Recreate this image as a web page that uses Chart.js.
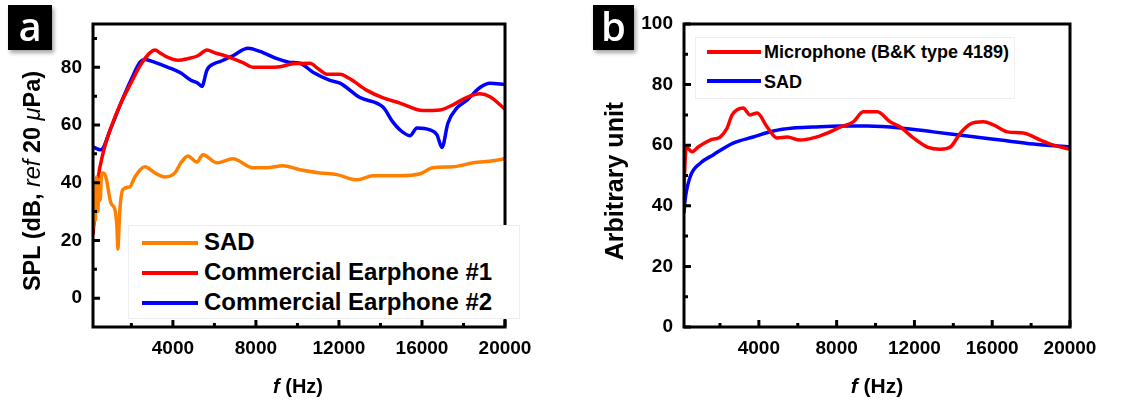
<!DOCTYPE html>
<html>
<head>
<meta charset="utf-8">
<script src="https://cdn.jsdelivr.net/npm/chart.js@4/dist/chart.umd.min.js"></script>
<style>
  html, body { margin:0; padding:0; background:#fff; }
  body { width:1137px; height:401px; position:relative; overflow:hidden; font-family:"Liberation Sans", Arial, sans-serif; }
  .abs { position:absolute; }
  .tag { position:absolute; background:#000; color:#fff; font-family:"Open Sans","Lato",sans-serif; font-weight:600; font-size:40px; line-height:40px; text-align:center; box-shadow:2px 3px 4px rgba(0,0,0,0.35); }
  .ytitle { position:absolute; white-space:nowrap; font-weight:bold; transform:translate(-50%,-50%) rotate(-90deg); }
  .xtitle { position:absolute; white-space:nowrap; font-weight:bold; transform:translate(-50%,-50%); }
  .leg { position:absolute; border:1px solid #eeeeee; background:#fff; }
  .legrow { position:absolute; white-space:nowrap; font-weight:bold; }
  .sw { position:absolute; height:4px; }
</style>
</head>
<body>
<div class="abs" style="left:0;top:0;width:560px;height:401px;"><canvas id="ca" width="560" height="401"></canvas></div>
<div class="abs" style="left:560px;top:0;width:577px;height:401px;"><canvas id="cb" width="577" height="401"></canvas></div>

<div class="tag" style="left:8px;top:5px;width:44px;height:45px;line-height:42px;">a</div>
<div class="tag" style="left:593px;top:5px;width:41px;height:45px;line-height:42px;">b</div>

<div class="ytitle" style="left:32px;top:181px;font-size:23.5px;">SPL (dB, <i style="font-weight:normal">ref</i> 20 <i style="font-weight:normal">μ</i>Pa)</div>
<div class="xtitle" style="left:298px;top:386px;font-size:20px;"><i>f</i> (Hz)</div>
<div class="ytitle" style="left:614px;top:181px;font-size:25px;">Arbitrary unit</div>
<div class="xtitle" style="left:877px;top:386px;font-size:21px;"><i>f</i> (Hz)</div>

<div class="leg" style="left:128px;top:225px;width:390px;height:92px;"></div>
<div class="sw" style="left:142px;top:241px;width:56px;background:#ff8000;"></div>
<div class="sw" style="left:142px;top:271px;width:56px;background:#ff0000;"></div>
<div class="sw" style="left:142px;top:301px;width:56px;background:#0000ff;"></div>
<div class="legrow" style="left:204px;top:228px;font-size:24px;">SAD</div>
<div class="legrow" style="left:204px;top:258px;font-size:24px;">Commercial Earphone #1</div>
<div class="legrow" style="left:204px;top:288px;font-size:24px;">Commercial Earphone #2</div>

<div class="leg" style="left:695px;top:37px;width:318px;height:60px;"></div>
<div class="sw" style="left:707px;top:50px;width:54px;background:#ff0000;"></div>
<div class="sw" style="left:707px;top:79px;width:54px;background:#0000ff;"></div>
<div class="legrow" style="left:764px;top:42px;font-size:18px;">Microphone (B&amp;K type 4189)</div>
<div class="legrow" style="left:764px;top:72px;font-size:18px;">SAD</div>

<script>
// ---------- Data: panel a ----------
const freqA_sad = [150, 200, 260, 320, 380, 440, 500, 560, 626, 770, 1012, 1205, 1300, 1350, 1400, 1446, 1590, 1928, 2169, 2650, 3132, 3614, 4096, 4385, 4723, 5157, 5445, 6120, 6891, 7855, 8530, 9300, 10120, 11084, 11903, 12867, 13638, 14939, 15903, 16530, 17493, 18457, 19420, 20000];
const splA_sad  = [24, 40, 27, 42, 30, 41, 34, 43, 43.4, 42, 33, 30.7, 25, 17, 24, 30.7, 37.6, 38.6, 42, 45.5, 43.4, 42, 43.4, 46.9, 49.3, 47.2, 49.7, 46.9, 48.3, 45.2, 45.2, 45.9, 44.5, 43.4, 42.8, 41, 42.4, 42.4, 43.1, 45.2, 45.5, 46.9, 47.6, 48.3];

const freqA_e1 = [150, 386, 626, 1012, 1494, 1976, 2458, 2891, 3132, 3422, 3759, 4241, 4723, 5205, 5638, 6024, 6506, 6891, 7400, 7855, 8500, 9156, 9783, 10602, 11000, 11421, 12048, 12529, 13349, 14100, 14939, 16047, 16867, 17493, 18168, 18794, 19276, 20000];
const splA_e1  = [22, 41, 50, 59, 67.6, 74.5, 81, 85, 86, 84.8, 83.4, 82.4, 83, 84, 86, 85, 84, 83, 81.5, 80, 80, 80.2, 81.2, 81.4, 79.5, 77.6, 77.6, 76, 72, 69.5, 67.6, 65, 65.2, 67, 69.6, 70.8, 69.8, 65.5];

const freqA_e2 = [150, 530, 1012, 1494, 1976, 2410, 2650, 3132, 3759, 4385, 4867, 5205, 5397, 5638, 6024, 6265, 6891, 7614, 8192, 9012, 9638, 10120, 10746, 11566, 12048, 13011, 14120, 14602, 14939, 15421, 15758, 16385, 16722, 16963, 17252, 17686, 18168, 18794, 19276, 20000];
const splA_e2  = [52.4, 51.4, 59, 67.6, 75.5, 81.7, 82.7, 81.7, 80, 78, 75.5, 74.5, 73.4, 79, 81.4, 82, 84, 86.6, 85.5, 83, 81.7, 81.4, 78.3, 75.5, 74.5, 69.5, 66.2, 61, 58.3, 56.3, 59, 58.3, 56.6, 52.2, 60.7, 65.9, 68.6, 73, 74.5, 74];

// ---------- Data: panel b ----------
const freqB_mic = [150, 257, 566, 875, 1493, 2008, 2368, 2626, 3192, 3552, 3913, 4427, 4942, 5457, 6126, 6795, 7516, 8185, 8855, 9369, 10090, 10759, 11274, 11943, 12664, 13333, 13848, 14363, 14878, 15547, 16062, 16782, 17606, 18481, 19151, 20000];
const valB_mic  = [46, 59.4, 57.8, 59.4, 61.7, 62.7, 65.7, 70, 72.3, 70, 70.6, 66, 62.4, 62.7, 61.7, 62.4, 64, 66, 67.7, 71, 71, 67.7, 66, 62.4, 59.4, 58.7, 59.4, 64, 67, 67.7, 66.7, 64.4, 64, 61.7, 60, 58.7];

const freqB_sad = [150, 206, 463, 978, 1647, 2677, 3707, 4736, 5766, 6795, 8185, 9575, 11274, 12973, 14723, 16422, 18121, 20000];
const valB_sad  = [37.6, 41.9, 49.5, 54, 56.8, 60.7, 62.7, 64.7, 65.7, 66, 66.3, 66.3, 65.7, 64.4, 63, 61.7, 60.4, 59.4];

// ---------- Ticks ----------
const xTickLabels = [4000, 8000, 12000, 16000, 20000];
const xMinorTicks = [2000, 6000, 10000, 14000, 18000];
const yTickLabelsA = [0, 20, 40, 60, 80];
const yMinorTicksA = [10, 30, 50, 70, 90];
const yTickLabelsB = [0, 20, 40, 60, 80, 100];
const yMinorTicksB = [10, 30, 50, 70, 90];

const pts = (xs, ys) => xs.map((x, i) => ({ x: x, y: ys[i] }));

const frameTicks = {
  id: 'frameTicks',
  afterDatasetsDraw(chart, args, opts) {
    const ctx = chart.ctx, a = chart.chartArea;
    const xs = chart.scales.x, ys = chart.scales.y;
    ctx.save();
    ctx.strokeStyle = '#000';
    ctx.lineWidth = 3;
    ctx.lineCap = 'butt';
    ctx.beginPath();
    opts.xMajor.forEach(v => { const p = xs.getPixelForValue(v); ctx.moveTo(p, a.bottom); ctx.lineTo(p, a.bottom - 7); });
    opts.xMinor.forEach(v => { const p = xs.getPixelForValue(v); ctx.moveTo(p, a.bottom); ctx.lineTo(p, a.bottom - 4); });
    opts.yMajor.forEach(v => { const p = ys.getPixelForValue(v); ctx.moveTo(a.left, p); ctx.lineTo(a.left + 7, p); });
    opts.yMinor.forEach(v => { const p = ys.getPixelForValue(v); ctx.moveTo(a.left, p); ctx.lineTo(a.left + 4, p); });
    ctx.stroke();
    ctx.lineWidth = 3;
    ctx.strokeRect(a.left, a.top, a.right - a.left, a.bottom - a.top);
    ctx.restore();
  }
};

const tickFont = { family: '"Liberation Sans", Arial, sans-serif', size: 19, weight: 'bold' };

function makeChart(id, datasets, cfg) {
  return new Chart(document.getElementById(id), {
    type: 'line',
    data: { datasets: datasets },
    plugins: [frameTicks],
    options: {
      responsive: false,
      animation: false,
      devicePixelRatio: 1,
      layout: { padding: { left: 0, top: 24, right: cfg.padRight, bottom: 0 } },
      plugins: {
        legend: { display: false },
        tooltip: { enabled: false },
        frameTicks: { xMajor: xTickLabels, xMinor: xMinorTicks, yMajor: cfg.yMajor, yMinor: cfg.yMinor }
      },
      elements: { point: { radius: 0 }, line: { borderWidth: 3.5, cubicInterpolationMode: 'monotone' } },
      scales: {
        x: {
          type: 'linear', min: 150, max: 20000,
          grid: { display: false, drawTicks: false },
          border: { display: false },
          afterFit: s => { s.height = 74; },
          afterBuildTicks: s => { s.ticks = xTickLabels.map(v => ({ value: v })); },
          ticks: { font: tickFont, color: '#000', padding: 10, maxRotation: 0, autoSkip: false, callback: v => String(v) }
        },
        y: {
          type: 'linear', min: cfg.yMin, max: cfg.yMax,
          grid: { display: false, drawTicks: false },
          border: { display: false },
          afterFit: s => { s.width = cfg.yWidth; },
          afterBuildTicks: s => { s.ticks = cfg.yMajor.map(v => ({ value: v })); },
          ticks: { font: tickFont, color: '#000', padding: 11, autoSkip: false, callback: v => String(v) }
        }
      }
    }
  });
}

makeChart('ca', [
  { data: pts(freqA_sad, splA_sad), borderColor: '#ff8000' },
  { data: pts(freqA_e1, splA_e1), borderColor: '#ff0000' },
  { data: pts(freqA_e2, splA_e2), borderColor: '#0000ff' }
], { padRight: 55, yWidth: 93, yMin: -10, yMax: 95, yMajor: yTickLabelsA, yMinor: yMinorTicksA });

makeChart('cb', [
  { data: pts(freqB_mic, valB_mic), borderColor: '#ff0000' },
  { data: pts(freqB_sad, valB_sad), borderColor: '#0000ff' }
], { padRight: 67, yWidth: 124, yMin: 0, yMax: 100, yMajor: yTickLabelsB, yMinor: yMinorTicksB });
</script>
</body>
</html>
